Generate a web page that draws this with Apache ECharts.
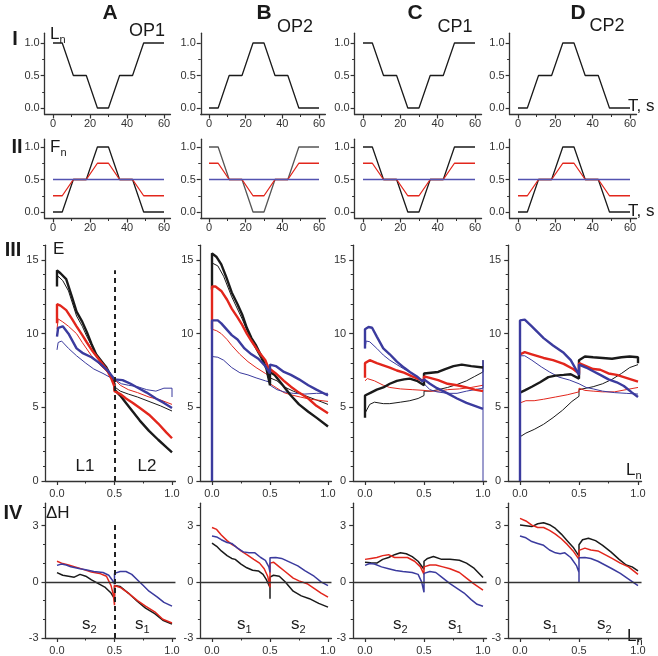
<!DOCTYPE html>
<html>
<head>
<meta charset="utf-8">
<script src="https://cdn.jsdelivr.net/npm/echarts@6/dist/echarts.min.js"></script>
<style>
html, body { margin: 0; padding: 0; background: #fff; }
#c { width: 658px; height: 656px; }
</style>
</head>
<body>
<div id="c"></div>
<script>
// ---- row I / II : protocol vs time ----
const tKnots = [0, 5, 11, 18, 24, 30, 36, 43, 49, 60];
const lnDown = [1, 1, 0.5, 0.5, 0, 0, 0.5, 0.5, 1, 1];      // OP1, CP1
const lnUp = [0, 0, 0.5, 0.5, 1, 1, 0.5, 0.5, 0, 0];        // OP2, CP2
const fBlackUp = [0, 0, 0.5, 0.5, 1, 1, 0.5, 0.5, 0, 0];
const fRedUp = [0.25, 0.25, 0.5, 0.5, 0.75, 0.75, 0.5, 0.5, 0.25, 0.25];
const fBlackDown = [1, 1, 0.5, 0.5, 0, 0, 0.5, 0.5, 1, 1];
const fRedDown = [0.75, 0.75, 0.5, 0.5, 0.25, 0.25, 0.5, 0.5, 0.75, 0.75];
const fBlue = [0.5, 0.5, 0.5, 0.5, 0.5, 0.5, 0.5, 0.5, 0.5, 0.5];

// ---- row III : E vs Ln ----
const eA_kThick = [[0,13.2],[0,14.3],[0.03,14.1],[0.08,13.7],[0.13,12.5],[0.17,11.5],[0.22,10.8],[0.26,10.1],[0.3,9.3],[0.34,8.6],[0.39,8.1],[0.43,7.7],[0.47,7.1],[0.5,6.6],[0.5,6.2],[0.55,5.8],[0.6,5.3],[0.66,4.7],[0.72,4.1],[0.8,3.4],[0.88,2.8],[0.95,2.3],[1,1.95]];
const eA_kThin = [[0,13.6],[0.01,13.9],[0.05,13.6],[0.1,12.9],[0.17,11.2],[0.22,10.5],[0.26,9.8],[0.3,9.2],[0.34,8.5],[0.4,7.8],[0.45,7.3],[0.5,6.8],[0.5,6.4],[0.55,6.1],[0.62,5.9],[0.7,5.7],[0.8,5.4],[0.9,5.1],[1,4.75]];
const eA_rThick = [[0,10.7],[0,12],[0.03,11.9],[0.08,11.6],[0.13,11],[0.17,10.5],[0.22,9.9],[0.26,9.4],[0.31,8.8],[0.37,8.2],[0.43,7.6],[0.47,7],[0.5,6.4],[0.5,6.1],[0.55,5.9],[0.6,5.6],[0.66,5.3],[0.73,4.9],[0.8,4.5],[0.88,3.9],[0.95,3.3],[1,2.9]];
const eA_rThin = [[0,10.3],[0.01,11],[0.05,10.8],[0.1,10.5],[0.17,10],[0.22,9.4],[0.3,8.5],[0.37,7.9],[0.45,7.3],[0.5,6.9],[0.55,6.5],[0.62,6.2],[0.7,6],[0.8,5.7],[0.9,5.5],[1,5.2]];
const eA_bThick = [[0,9.8],[0.01,10.4],[0.05,10.5],[0.1,10],[0.17,9],[0.22,8.7],[0.3,8.4],[0.37,8],[0.44,7.5],[0.5,6.9],[0.5,6.8],[0.57,6.85],[0.64,6.6],[0.71,6.3],[0.78,6],[0.86,5.6],[0.93,5.3],[1,4.95]];
const eA_bThin = [[0,8.9],[0.01,9.4],[0.04,9.5],[0.1,9],[0.17,8.5],[0.25,8],[0.32,7.6],[0.4,7.3],[0.47,7],[0.5,6.9],[0.56,6.6],[0.62,6.5],[0.7,6.4],[0.78,6.2],[0.86,6.1],[0.93,6.3],[1,6.3],[1,5.7]];

const eB_kThick = [[0,13],[0,15.45],[0.04,15.2],[0.08,14.7],[0.12,13.9],[0.17,12.8],[0.22,12],[0.26,11.3],[0.3,10.4],[0.34,9.7],[0.38,9.2],[0.43,8.4],[0.47,7.6],[0.5,6.5],[0.5,7.4],[0.54,7.2],[0.6,6.6],[0.68,5.8],[0.75,5.2],[0.83,4.7],[0.9,4.3],[1,3.7]];
const eB_kThin = [[0,14.8],[0.05,14.6],[0.1,13.9],[0.17,12.5],[0.26,11],[0.34,9.5],[0.43,8.2],[0.5,7.2],[0.5,7],[0.56,6.8],[0.62,6.4],[0.7,6.1],[0.8,5.8],[0.9,5.5],[1,5.2]];
const eB_rThick = [[0,10.3],[0,13.2],[0.03,13.2],[0.08,12.9],[0.13,12.3],[0.17,11.7],[0.22,11.1],[0.26,10.6],[0.3,10],[0.34,9.5],[0.4,8.8],[0.46,8.2],[0.5,7.4],[0.5,7.6],[0.55,7.3],[0.62,6.8],[0.68,6.4],[0.75,6],[0.83,5.6],[0.9,5.1],[1,4.6]];
const eB_rThin = [[0,10.3],[0.04,10.2],[0.08,10],[0.13,9.6],[0.17,9.2],[0.24,8.6],[0.31,8.1],[0.38,7.7],[0.46,7.3],[0.5,7.1],[0.5,6.6],[0.56,6.3],[0.62,6],[0.68,5.85],[0.76,5.7],[0.85,5.55],[1,5.4]];
const eB_bThick = [[0,0],[0,10.9],[0.05,10.9],[0.08,10.7],[0.17,9.9],[0.22,9.6],[0.28,9],[0.34,8.6],[0.4,8.3],[0.46,7.8],[0.5,7.3],[0.5,7.9],[0.55,7.8],[0.62,7.4],[0.68,7.2],[0.75,6.9],[0.83,6.5],[0.9,6.2],[1,5.8]];
const eB_bThin = [[0,8.45],[0.05,8.4],[0.1,8.2],[0.17,7.7],[0.24,7.35],[0.31,7.2],[0.38,7],[0.46,6.8],[0.5,6.7],[0.5,6.5],[0.56,6.2],[0.62,6.05],[0.7,5.95],[0.8,5.9],[0.9,5.95],[1,5.95]];

const eC_kThick = [[0,4.3],[0,5.8],[0.05,6],[0.1,6.2],[0.155,6.35],[0.21,6.6],[0.27,6.8],[0.33,6.9],[0.38,6.95],[0.44,6.8],[0.5,6.5],[0.5,7.3],[0.56,7.35],[0.62,7.4],[0.68,7.6],[0.75,7.8],[0.82,7.9],[0.9,7.8],[1,7.7]];
const eC_kThin = [[0,4.6],[0.01,4.7],[0.04,5.2],[0.08,5.35],[0.155,5.25],[0.21,5.25],[0.3,5.35],[0.38,5.45],[0.45,5.6],[0.5,5.8],[0.5,6.1],[0.56,6.1],[0.62,6.2],[0.7,6.35],[0.78,6.55],[0.86,6.8],[0.93,7.1],[1,7.4],[1,8.2]];
const eC_rThick = [[0,7],[0,8],[0.04,8.2],[0.1,8],[0.155,7.85],[0.21,7.7],[0.27,7.5],[0.33,7.35],[0.4,7.1],[0.46,6.9],[0.5,6.8],[0.5,7.1],[0.55,7],[0.62,6.85],[0.7,6.6],[0.78,6.5],[0.86,6.35],[0.93,6.2],[1,6.1]];
const eC_rThin = [[0,6.8],[0.02,6.95],[0.08,6.8],[0.155,6.5],[0.21,6.35],[0.3,6.25],[0.4,6.2],[0.5,6.15],[0.55,6.1],[0.62,6.1],[0.7,6.2],[0.8,6.25],[0.9,6.35],[1,6.5]];
const eC_bThick = [[0,9],[0,10.3],[0.03,10.45],[0.06,10.4],[0.1,9.8],[0.155,9],[0.21,8.6],[0.27,8.1],[0.33,7.7],[0.38,7.4],[0.44,7.1],[0.49,6.75],[0.5,6.9],[0.55,6.6],[0.61,6.3],[0.7,5.95],[0.78,5.6],[0.86,5.3],[0.93,5.1],[1,4.9]];
const eC_bThin = [[0,9],[0.01,9.5],[0.04,9.45],[0.1,9],[0.155,8.55],[0.21,8.2],[0.27,7.9],[0.33,7.6],[0.38,7.4],[0.44,7.1],[0.5,6.75],[0.5,6.6],[0.55,6.2],[0.61,6.05],[0.7,5.95],[0.78,5.95],[0.86,6.1],[0.93,6.2],[1,6.3],[1,8.2],[1,0]];

const eD_kThick = [[0,6],[0.04,6.15],[0.1,6.4],[0.17,6.7],[0.24,7.05],[0.3,7.15],[0.37,7.2],[0.43,7.25],[0.5,6.95],[0.5,8.2],[0.55,8.45],[0.62,8.4],[0.7,8.35],[0.78,8.3],[0.86,8.4],[0.93,8.45],[1,8.4],[1,8]];
const eD_kThin = [[0,3],[0.05,3.25],[0.12,3.5],[0.2,3.85],[0.28,4.3],[0.36,4.8],[0.44,5.4],[0.5,5.75],[0.5,6.2],[0.56,6.3],[0.62,6.4],[0.7,6.6],[0.78,6.9],[0.86,7.3],[0.93,7.7],[1,7.9]];
const eD_rThick = [[0,8.6],[0.04,8.75],[0.1,8.6],[0.2,8.35],[0.28,8.2],[0.37,7.95],[0.45,7.6],[0.5,7.3],[0.5,8],[0.56,7.8],[0.62,7.6],[0.68,7.55],[0.75,7.3],[0.82,7.2],[0.9,7],[1,6.75]];
const eD_rThin = [[0,5.3],[0.05,5.45],[0.12,5.45],[0.2,5.55],[0.3,5.7],[0.4,5.85],[0.5,6.05],[0.5,6.3],[0.55,6.15],[0.62,6.1],[0.7,6.05],[0.8,6.05],[0.9,6.2],[1,6.35]];
const eD_bThick = [[0,0],[0,10.9],[0.04,10.95],[0.1,10.5],[0.2,9.7],[0.28,9.2],[0.37,8.7],[0.43,8.2],[0.5,7.2],[0.5,7.9],[0.56,7.7],[0.62,7.45],[0.68,7.2],[0.75,6.9],[0.82,6.7],[0.88,6.45],[0.95,6],[1,5.7]];
const eD_bThin = [[0,8.5],[0.04,8.5],[0.1,8.2],[0.18,7.75],[0.25,7.4],[0.33,7.05],[0.42,6.85],[0.5,6.6],[0.56,6.35],[0.62,6.25],[0.7,6.1],[0.8,6],[0.9,5.95],[1,5.9]];

// ---- row IV : dH vs Ln ----
const hA_k = [[0,0.49],[0.05,0.35],[0.1,0.3],[0.15,0.25],[0.2,0.4],[0.25,0.3],[0.3,0.1],[0.36,-0.1],[0.42,-0.3],[0.47,-0.6],[0.5,-0.9],[0.5,-0.2],[0.55,-0.25],[0.62,-0.6],[0.7,-1.05],[0.77,-1.4],[0.85,-1.7],[0.92,-2.05],[1,-2.25]];
const hA_r = [[0,1.1],[0.04,1],[0.1,0.9],[0.2,0.72],[0.3,0.52],[0.37,0.45],[0.43,0.3],[0.47,-0.2],[0.49,-0.7],[0.5,-1.25],[0.5,-0.2],[0.55,-0.3],[0.62,-0.6],[0.7,-1],[0.77,-1.3],[0.85,-1.6],[0.92,-2],[1,-2.2]];
const hA_b = [[0,0.88],[0.04,0.95],[0.08,0.9],[0.12,0.8],[0.2,0.7],[0.25,0.65],[0.32,0.55],[0.4,0.5],[0.45,0.35],[0.48,0.1],[0.5,-0.12],[0.5,0.45],[0.55,0.55],[0.6,0.55],[0.65,0.4],[0.7,0.1],[0.75,-0.2],[0.8,-0.5],[0.87,-0.8],[0.93,-1.1],[1,-1.3]];

const hB_k = [[0,2.07],[0.04,1.9],[0.08,1.65],[0.13,1.4],[0.17,1.25],[0.2,1.2],[0.25,0.95],[0.3,0.75],[0.35,0.62],[0.4,0.58],[0.44,0.4],[0.47,0.1],[0.5,-0.3],[0.5,-0.9],[0.5,0.25],[0.53,0.35],[0.58,0.3],[0.63,0],[0.7,-0.5],[0.77,-0.75],[0.84,-0.9],[0.92,-1.15],[1,-1.35]];
const hB_r = [[0,2.9],[0.04,2.8],[0.08,2.5],[0.13,2.2],[0.17,2],[0.2,1.9],[0.25,1.65],[0.3,1.45],[0.36,1.2],[0.41,1],[0.45,0.7],[0.48,0.3],[0.5,-0.3],[0.5,1],[0.53,1.05],[0.58,0.8],[0.63,0.55],[0.7,0.2],[0.75,0.05],[0.82,-0.1],[0.88,-0.35],[0.94,-0.6],[1,-0.82]];
const hB_b = [[0,2.45],[0.04,2.4],[0.08,2.25],[0.13,2.1],[0.17,2.05],[0.22,1.8],[0.27,1.6],[0.32,1.55],[0.37,1.55],[0.42,1.3],[0.46,1.15],[0.49,0.8],[0.5,0.5],[0.5,1.28],[0.55,1.3],[0.6,1.25],[0.67,1.05],[0.74,0.85],[0.8,0.6],[0.88,0.3],[0.94,0],[1,-0.2]];

const hC_k = [[0,1.05],[0.05,1.02],[0.1,1],[0.15,1.2],[0.2,1.3],[0.25,1.45],[0.3,1.55],[0.35,1.5],[0.4,1.35],[0.45,1.1],[0.5,0.67],[0.5,1.1],[0.53,1.25],[0.58,1.35],[0.65,1.2],[0.72,1.2],[0.8,1.15],[0.86,1],[0.92,0.75],[1,0.23]];
const hC_r = [[0,1.2],[0.05,1.25],[0.1,1.3],[0.15,1.4],[0.2,1.45],[0.25,1.3],[0.3,1.3],[0.36,1.3],[0.42,1.1],[0.47,0.8],[0.5,0.4],[0.5,0.8],[0.55,0.9],[0.6,0.9],[0.66,0.8],[0.72,0.7],[0.8,0.5],[0.86,0.2],[0.92,-0.1],[1,-0.44]];
const hC_b = [[0,0.88],[0.04,0.98],[0.08,0.95],[0.14,0.8],[0.2,0.7],[0.26,0.6],[0.32,0.55],[0.4,0.5],[0.45,0.4],[0.48,0],[0.5,-0.56],[0.5,0.45],[0.55,0.55],[0.6,0.5],[0.65,0.25],[0.72,-0.1],[0.78,-0.35],[0.84,-0.6],[0.9,-0.95],[0.95,-1.2],[1,-1.3]];

const hD_k = [[0,3.03],[0.05,3],[0.1,2.95],[0.15,3.1],[0.2,3.16],[0.25,3.05],[0.3,2.85],[0.35,2.55],[0.4,2.2],[0.45,1.85],[0.5,1.37],[0.5,1.98],[0.53,2.25],[0.58,2.33],[0.64,2.2],[0.7,1.95],[0.77,1.6],[0.84,1.2],[0.9,0.9],[0.95,0.8],[1,0.58]];
const hD_r = [[0,3.39],[0.05,3.25],[0.1,3.03],[0.15,2.9],[0.2,2.9],[0.25,2.75],[0.3,2.55],[0.35,2.3],[0.4,2],[0.45,1.65],[0.5,1.2],[0.5,1.68],[0.55,1.8],[0.6,1.7],[0.66,1.65],[0.72,1.45],[0.78,1.25],[0.85,1],[0.92,0.8],[1,0.4]];
const hD_b = [[0,2.45],[0.05,2.35],[0.1,2.15],[0.15,2.05],[0.2,1.95],[0.25,1.7],[0.3,1.55],[0.34,1.5],[0.38,1.55],[0.43,1.3],[0.48,0.85],[0.5,0.5],[0.5,-0.05],[0.5,1.28],[0.55,1.3],[0.6,1.25],[0.66,1.1],[0.72,0.9],[0.78,0.7],[0.85,0.45],[0.92,0.15],[1,-0.2]];

// tick labels
const tLabels = [0, 20, 40, 60];
const tMinor = [10, 30, 50];
const fracLabels = [0, 0.5, 1];
const fracMinor = [0.25, 0.75];
const eLabels = [0, 5, 10, 15];
const eMinor = [1, 2, 3, 4, 6, 7, 8, 9, 11, 12, 13, 14, 16];
const hLabels = [-3, 0, 3];
const hMinor = [-2, -1, 1, 2, 4];

// ---- layout (pixels) ----
const colT = [[53, 164], [209, 319], [363, 475], [518, 630]];   // px of T=0 / T=60
const colL = [[57, 172], [212, 328], [365, 483], [520, 638]];   // px of Ln=0 / Ln=1
const FONT = '"Liberation Sans", Arial, sans-serif';
const BLACK = '#1a1a1a', RED = '#e2261c', BLUE = '#3b3b9e', BLUE2 = '#5252b0';

const chart = echarts.init(document.getElementById('c'));
const grid = [], xAxis = [], yAxis = [], series = [], graphic = [];

function span(p0, p1, v0, v1, min, max) {
  const k = (p1 - p0) / (v1 - v0);
  const a = p0 + (min - v0) * k, b = p0 + (max - v0) * k;
  return [Math.min(a, b), Math.abs(b - a)];
}

function axes(gi, c, isX) {
  const pos = isX ? 'bottom' : 'left';
  const main = {
    type: 'value', gridIndex: gi, min: c.min, max: c.max, position: pos,
    axisLine: { show: true, onZero: false, lineStyle: { color: '#333', width: 1.3 } },
    axisTick: { show: true, customValues: c.labels, length: 4, lineStyle: { color: '#333', width: 1.2 } },
    axisLabel: { show: true, customValues: c.labels, formatter: c.fmt, color: '#333', fontSize: 11, fontFamily: FONT, margin: c.margin },
    splitLine: { show: false }
  };
  const minor = {
    type: 'value', gridIndex: gi, min: c.min, max: c.max, position: pos,
    axisLine: { show: false, onZero: false },
    axisTick: { show: true, customValues: c.minor, length: 2.5, lineStyle: { color: '#333', width: 1 } },
    axisLabel: { show: false }, splitLine: { show: false }
  };
  return [main, minor];
}

function panel(xc, yc, xPix, yPix, lines) {
  const gi = grid.length;
  const [left, width] = span(xPix[0], xPix[1], xPix[2], xPix[3], xc.min, xc.max);
  const [top, height] = span(yPix[0], yPix[1], yPix[2], yPix[3], yc.min, yc.max);
  grid.push({ left, top, width, height, containLabel: false });
  xAxis.push(...axes(gi, xc, true));
  yAxis.push(...axes(gi, yc, false));
  lines.forEach(l => {
    series.push({
      type: 'line', xAxisIndex: 2 * gi, yAxisIndex: 2 * gi, data: l.data,
      symbol: 'none', silent: true, animation: false, z: l.z || 3,
      lineStyle: { color: l.color, width: l.width },
      markLine: l.mark
    });
  });
}

const fmt1 = v => v.toFixed(1);
const fmt0 = v => String(v);
const xT = { min: -4.5, max: 63.5, labels: tLabels, minor: tMinor, fmt: fmt0, margin: 4 };
const yFrac1 = { min: -0.1, max: 1.15, labels: fracLabels, minor: fracMinor, fmt: fmt1, margin: 5 };
const yFrac2 = { min: -0.1, max: 1.12, labels: fracLabels, minor: fracMinor, fmt: fmt1, margin: 5 };
const xLn = { min: -0.1, max: 1.03, labels: fracLabels, minor: fracMinor, fmt: fmt1, margin: 7 };
const yE = { min: 0, max: 16, labels: eLabels, minor: eMinor, fmt: fmt0, margin: 7 };
const yH = { min: -3, max: 4.2, labels: hLabels, minor: hMinor, fmt: fmt0, margin: 7 };

const pairs = (xs, ys) => xs.map((x, i) => [x, ys[i]]);
const rowI = [lnDown, lnUp, lnDown, lnUp];
const rowII = [[fBlackUp, fRedUp], [fBlackDown, fRedDown], [fBlackDown, fRedDown], [fBlackUp, fRedUp]];
const rowIII = [
  [eA_kThin, eA_rThin, eA_bThin, eA_kThick, eA_rThick, eA_bThick],
  [eB_kThin, eB_rThin, eB_bThin, eB_kThick, eB_rThick, eB_bThick],
  [eC_kThin, eC_rThin, eC_bThin, eC_kThick, eC_rThick, eC_bThick],
  [eD_kThin, eD_rThin, eD_bThin, eD_kThick, eD_rThick, eD_bThick]
];
const rowIV = [[hA_k, hA_r, hA_b], [hB_k, hB_r, hB_b], [hC_k, hC_r, hC_b], [hD_k, hD_r, hD_b]];

const dash = { type: [5, 4], color: '#222', width: 2 };
for (let c = 0; c < 4; c++) {
  const xt = [colT[c][0], colT[c][1], 0, 60];
  const xl = [colL[c][0], colL[c][1], 0, 1];
  panel(xT, yFrac1, xt, [108, 43, 0, 1], [
    { data: pairs(tKnots, rowI[c]), color: BLACK, width: 1.3 }
  ]);
  panel(xT, yFrac2, xt, [212, 147, 0, 1], [
    { data: pairs(tKnots, rowII[c][0]), color: c === 1 ? '#555' : BLACK, width: 1.3 },
    { data: pairs(tKnots, rowII[c][1]), color: RED, width: 1.3 },
    { data: pairs(tKnots, fBlue), color: BLUE2, width: 1.6 }
  ]);
  const e = rowIII[c];
  const colors = [BLACK, RED, BLUE, BLACK, RED, BLUE];
  panel(xLn, yE, xl, [481, 260, 0, 15], e.map((d, i) => ({
    data: d, color: colors[i], width: i < 3 ? 1 : 2.4, z: i < 3 ? 3 : 4,
    mark: (c === 0 && i === 0) ? {
      silent: true, symbol: 'none', label: { show: false }, lineStyle: dash, animation: false,
      data: [[{ coord: [0.5, 0] }, { coord: [0.5, 14.3] }]]
    } : undefined
  })));
  const h = rowIV[c];
  panel(xLn, yH, xl, [640, 526, -3, 3], h.map((d, i) => ({
    data: d, color: [BLACK, RED, BLUE][i], width: 1.5,
    mark: i === 0 ? {
      silent: true, symbol: 'none', label: { show: false }, animation: false,
      lineStyle: { type: 'solid', color: '#333', width: 1.3 },
      data: c === 0
        ? [{ yAxis: 0 }, [{ coord: [0.5, -3], lineStyle: dash }, { coord: [0.5, 3.2] }]]
        : [{ yAxis: 0 }]
    } : undefined
  })));
}

// ---- texts ----
function txt(x, y, s, size, bold, align) {
  graphic.push({
    type: 'text', x, y, silent: true,
    style: { text: s, fontSize: size, fontWeight: bold ? 'bold' : 'normal', fontFamily: FONT,
      fill: '#1a1a1a', align: align || 'center', verticalAlign: 'middle' }
  });
}
function sub(x, y, main, s, size) {
  graphic.push({
    type: 'text', x, y, silent: true,
    style: {
      text: '{m|' + main + '}{s|' + s + '}', align: 'left', verticalAlign: 'middle',
      rich: {
        m: { fontSize: size, fontFamily: FONT, fill: '#1a1a1a', lineHeight: size + 6, verticalAlign: 'middle' },
        s: { fontSize: Math.round(size * 0.62), fontFamily: FONT, fill: '#1a1a1a', lineHeight: 10, verticalAlign: 'bottom' }
      }
    }
  });
}
[['A', 110], ['B', 264], ['C', 415], ['D', 578]].forEach(([s, x]) => txt(x, 13, s, 21, true));
txt(15, 39, 'I', 20, true);
txt(17, 147, 'II', 20, true);
txt(13, 250, 'III', 20, true);
txt(13, 513, 'IV', 20, true);
txt(147, 31, 'OP1', 18);
txt(295, 27, 'OP2', 18);
txt(455, 27, 'CP1', 18);
txt(607, 26, 'CP2', 18);
sub(50, 34, 'L', 'n', 17);
sub(50, 147, 'F', 'n', 17);
txt(53, 249, 'E', 17, false, 'left');
txt(46, 513, 'ΔH', 17, false, 'left');
txt(628, 106, 'T, s', 17, false, 'left');
txt(628, 211, 'T, s', 17, false, 'left');
txt(85, 466, 'L1', 17);
txt(147, 466, 'L2', 17);
sub(626, 470, 'L', 'n', 17);
sub(627, 636, 'L', 'n', 17);
[[82, 's', '2'], [135, 's', '1'], [237, 's', '1'], [291, 's', '2'],
 [393, 's', '2'], [448, 's', '1'], [543, 's', '1'], [597, 's', '2']].forEach(([x, m, s]) => sub(x, 624, m, s, 17));

chart.setOption({
  animation: false,
  backgroundColor: '#fff',
  grid, xAxis, yAxis, series, graphic
});
</script>
</body>
</html>
